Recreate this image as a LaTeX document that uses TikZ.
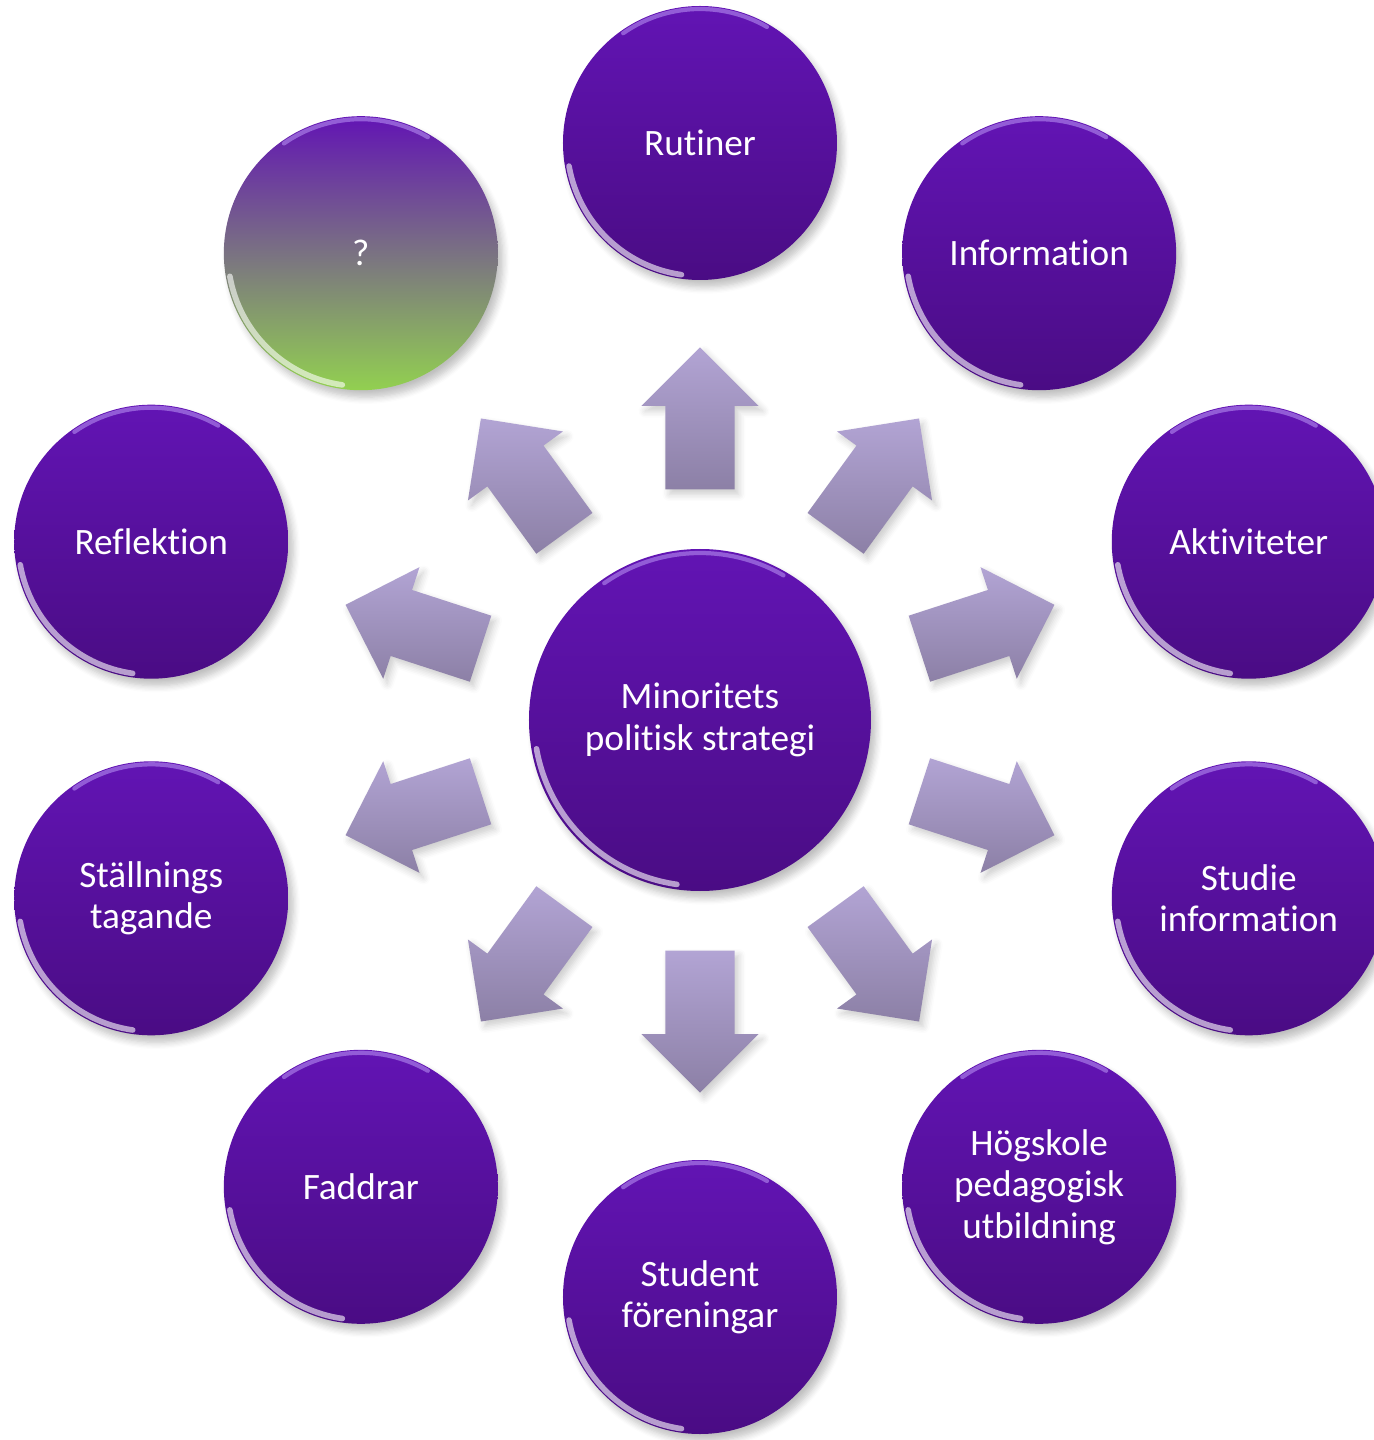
\documentclass[tikz,border=0pt]{standalone}
\usepackage{fontspec}
\setmainfont{Carlito}[Ligatures=NoCommon]
\usetikzlibrary{shapes.arrows,shadows.blur}

\definecolor{plumtop}{HTML}{6214B4}
\definecolor{plumbot}{HTML}{4A0C84}
\definecolor{plumlight}{HTML}{B48CF0}
\definecolor{lilactop}{HTML}{B2A4D4}
\definecolor{lilacbot}{HTML}{8C80A6}
\definecolor{qgreen}{HTML}{92D050}

\begin{document}
\begin{tikzpicture}
  [
    ball/.style={
      circle,
      shade,
      top color=plumtop,
      bottom color=plumbot,
      blur shadow={shadow blur steps=6,shadow xshift=.5mm,shadow yshift=-.7mm,shadow opacity=25},
      text=white,
      align=center,
      font=\fontsize{10.6}{11.8}\selectfont,
      minimum size=2.74cm,
      inner sep=0pt
    },
    hub/.style={
      ball,
      minimum size=3.42cm
    },
    % the open question gets the green fade
    fraga/.style={
      bottom color=qgreen
    },
    rim/.style={
      white,
      opacity=.6,
      line width=1.6pt,
      line cap=round
    },
    rimtop/.style={
      plumlight,
      opacity=.6,
      line width=1.2pt,
      line cap=round
    },
    pointer/.style={
      single arrow,
      shade,
      top color=lilactop,
      bottom color=lilacbot,
      blur shadow={shadow blur steps=5,shadow xshift=.4mm,shadow yshift=-.5mm,shadow opacity=20},
      minimum height=1.42cm,
      inner xsep=0pt,
      inner ysep=.34cm,
      single arrow head extend=.24cm,
      single arrow tip angle=90,
      anchor=tail
    }
  ]

  \useasboundingbox (-7.00,-7.20) rectangle (6.73,7.20);

  \node [hub] (strategi) at (0,0) {Minoritets\\politisk strategi};
  \draw [rim] (strategi.center) ++(190:1.66) arc [start angle=190,end angle=262,radius=1.66cm];
  \draw [rimtop] (strategi.center) ++(60:1.67) arc [start angle=60,end angle=125,radius=1.67cm];

  \foreach \a/\nm/\txt in {90/rutiner/Rutiner, 54/information/Information,
      18/aktiviteter/Aktiviteter, -18/studie/{Studie\\information},
      -54/hogskole/{Högskole\\pedagogisk\\utbildning},
      -90/student/{Student\\föreningar}, -126/faddrar/Faddrar,
      -162/stallning/{Ställnings\\tagande}, 162/reflektion/Reflektion,
      126/fraga/?} {
      \node [pointer,rotate=\a] (pil-\nm) at (\a:2.30) {};
      \node [ball,\nm/.try] (\nm) at (\a:5.77) {\txt};
      \draw [rim] (\nm.center) ++(190:1.33) arc [start angle=190,end angle=262,radius=1.33cm];
      \draw [rimtop] (\nm.center) ++(60:1.34) arc [start angle=60,end angle=125,radius=1.34cm];
  }

\end{tikzpicture}
\end{document}
